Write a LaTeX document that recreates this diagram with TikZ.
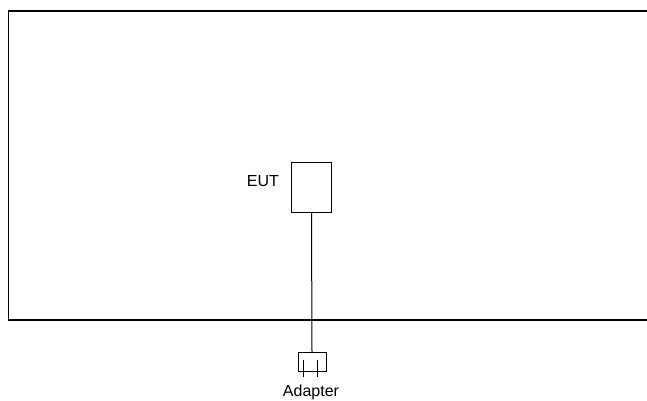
\documentclass[tikz,border=0pt]{standalone}
\usepackage{fontspec}
\setmainfont{Liberation Sans}
\begin{document}
\begin{tikzpicture}[x=1pt,y=-1pt,
  line width=1.1pt,
  lbl/.style={font=\fontsize{16}{19}\selectfont, inner sep=0pt},
  thin/.style={line width=1pt}]
\useasboundingbox (0,0) rectangle (647,401);
% test table boundary
\draw (655,11) -- (8.5,11) -- (8.5,320) -- (655,320);
% equipment under test
\node[draw, thin, minimum width=40pt, minimum height=50pt, inner sep=0pt, anchor=north west] (eut) at (291,162) {};
\node[lbl, anchor=east] (eutlbl) at (279.5,181.5) {EUT};
% power adapter with its two prongs
\node[draw, thin, minimum width=28pt, minimum height=18.5pt, inner sep=0pt, anchor=north west] (adp) at (297.5,352) {};
\coordinate (p1top) at (303.5,360);
\coordinate (p1bot) at (303.5,377);
\coordinate (p2top) at (317,360);
\coordinate (p2bot) at (317,377);
\draw[thin] (p1top) -- (p1bot);
\draw[thin] (p2top) -- (p2bot);
\node[lbl, anchor=base] (adplbl) at (311,396.5) {Adapter};
% power cord
\draw[thin] (eut.south) -- (adp.north);
\end{tikzpicture}
\end{document}
